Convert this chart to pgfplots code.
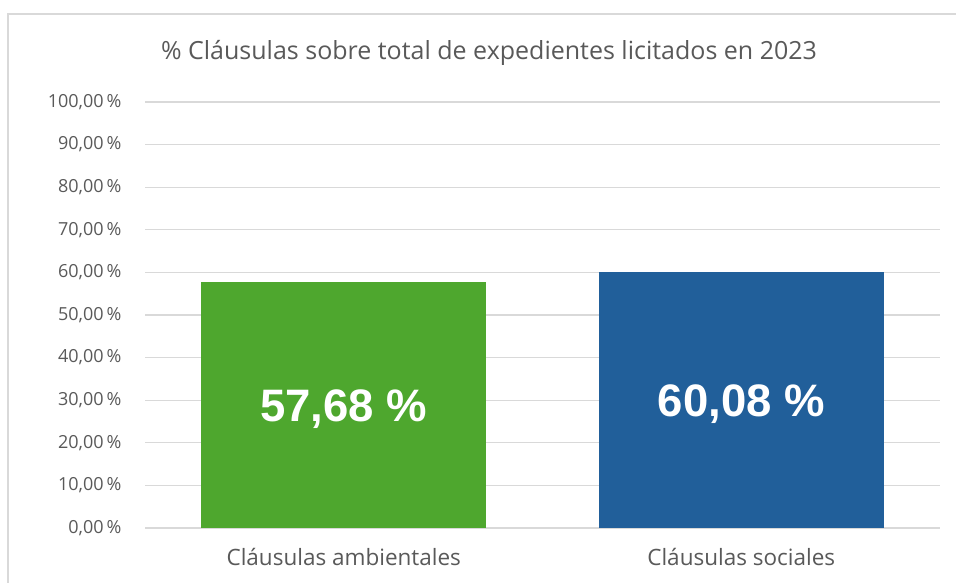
\documentclass[border=0pt]{standalone}
\usepackage{pgfplots}
\pgfplotsset{compat=1.18}
\usepackage{fontspec}
\setmainfont{Open Sans}
\newfontfamily\labfont{Liberation Sans}
\definecolor{txt}{HTML}{595959}
\definecolor{gridc}{HTML}{D9D9D9}
\definecolor{cgreen}{HTML}{4EA72E}
\definecolor{cblue}{HTML}{215F9A}
\begin{document}
\begin{tikzpicture}[x=1bp,y=1bp]
\useasboundingbox (0,0) rectangle (956,583);
\draw[gridc, line width=1.2bp] (8,-5) -- (8,569) -- (961,569);
\node[txt, font=\fontsize{25bp}{30bp}\selectfont] at (489,530) {\% Cláusulas sobre total de expedientes licitados en 2023};
\begin{axis}[
  at={(145bp,55bp)}, anchor=south west,
  scale only axis, width=795bp, height=426bp,
  xmin=-0.5, xmax=1.5, ymin=0, ymax=100,
  axis line style={draw=none},
  ytick={0,10,...,100},
  xtick={0,1}, xticklabels={Cláusulas ambientales, Cláusulas sociales},
  major tick length=0pt,
  xmajorgrids=false, ymajorgrids=true, major grid style={draw=gridc, line width=1.2bp},
  yticklabel={\pgfmathprintnumber[fixed,fixed zerofill,precision=2,use comma]{\tick}\,\%},
  yticklabel style={txt, font=\fontsize{18bp}{21bp}\selectfont, xshift=-20bp},
  xticklabel style={txt, font=\fontsize{22.5bp}{26bp}\selectfont, yshift=-17bp},
  /pgf/number format/assume math mode=true,
  clip=false,
]
\addplot[ybar, bar width=285bp, draw=none, fill=cgreen, bar shift=0pt] coordinates {(0,57.68)};
\addplot[ybar, bar width=285bp, draw=none, fill=cblue, bar shift=0pt] coordinates {(1,60.08)};
\addplot[only marks, mark=none, point meta=explicit symbolic,
  nodes near coords, every node near coord/.style={anchor=center, yshift=-4bp, text=white, font=\labfont\bfseries\fontsize{45.5bp}{52bp}\selectfont}]
  coordinates {(0,28.84)[57,68 \%] (1,30.04)[60,08 \%]};
\end{axis}
\end{tikzpicture}
\end{document}
